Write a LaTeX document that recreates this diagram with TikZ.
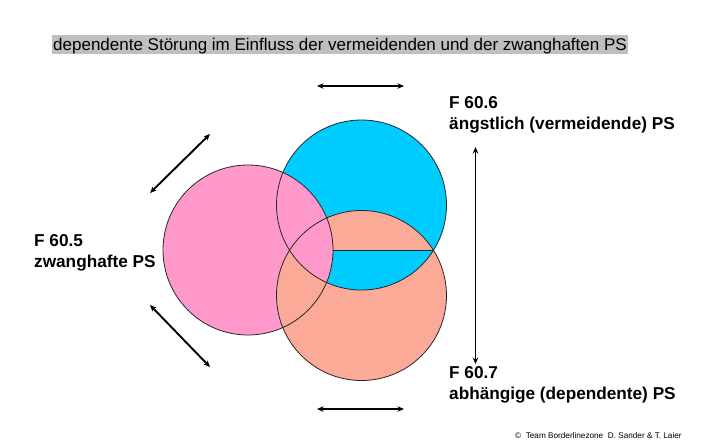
\documentclass[tikz,border=0pt]{standalone}
\usepackage{fontspec}
\setmainfont{Liberation Sans}
\usetikzlibrary{arrows.meta}
\definecolor{pinkfill}{RGB}{255,153,204}
\definecolor{bluefill}{RGB}{0,204,255}
\definecolor{salmonfill}{RGB}{250,170,150}
\tikzset{label text/.style={anchor=base west,inner sep=0,align=left,font=\fontsize{17.2}{21}\selectfont\bfseries},
  dbl arrow/.style={line width=1.9pt,{Stealth[length=6.5pt,width=5.5pt]}-{Stealth[length=6.5pt,width=5.5pt]}},
  ring/.style={line width=.8pt,draw=black!85}}
\begin{document}
\begin{tikzpicture}[x=1pt,y=-1pt]
\useasboundingbox (0,0) rectangle (703,445);
\node[anchor=base west,fill=lightgray,inner xsep=1pt,inner ysep=0,text height=15pt,text depth=4pt,font=\fontsize{17}{20}\selectfont] (title) at (52,50){dependente Störung im Einfluss der vermeidenden und der zwanghaften PS};
\coordinate (zw) at (248,250);\coordinate (ae) at (361.5,205);\coordinate (ab) at (361.5,295.5);\def\r{85}
% fills
\fill[salmonfill] (ab) circle (\r);\fill[bluefill] (ae) circle (\r);
\begin{scope}\clip (ae) circle (\r);\clip (250,0) rectangle (460,250);\fill[salmonfill] (ab) circle (\r);\end{scope}
\fill[pinkfill] (zw) circle (\r);
\begin{scope}\clip (zw) circle (\r);\fill[salmonfill] (ab) circle (\r);\clip (ae) circle (\r);\fill[pinkfill] (zw) circle (\r);\end{scope}
\foreach \c in {zw,ae,ab}{\draw[ring] (\c) circle (\r);}
\coordinate (cut) at (333,250);\coordinate (cross) at (433.5,250);\draw[ring] (cut)--(cross);
% labels (base = last line)
\node[label text] (f605) at (34,267){F 60.5\\zwanghafte PS};
\node[label text] (f606) at (449,129){F 60.6\\ängstlich (vermeidende) PS};
\node[label text] (f607) at (449,399){F 60.7\\abhängige (dependente) PS};
% arrows
\coordinate (t1) at (317,86);\coordinate (t2) at (404,86);\coordinate (b1) at (317,409);\coordinate (b2) at (404,409);
\coordinate (u1) at (150,193);\coordinate (u2) at (210,134);\coordinate (l1) at (150,305);\coordinate (l2) at (210,367);
\coordinate (v1) at (475.5,147);\coordinate (v2) at (475.5,364);
\foreach \a/\b in {t1/t2,b1/b2,u1/u2,l1/l2,v1/v2}{\draw[dbl arrow] (\a)--(\b);}
\node[anchor=base west,inner sep=0,font=\fontsize{8.2}{10}\selectfont] (copy) at (515,438){©\ \ Team Borderlinezone\ \ D. Sander \& T. Laier};
\end{tikzpicture}
\end{document}
